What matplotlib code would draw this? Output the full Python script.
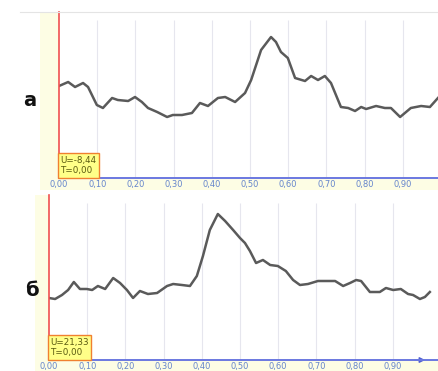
"""Two oscillogram traces (а, б) with time axis and marker readout."""
import matplotlib
matplotlib.use("Agg")
import matplotlib.pyplot as plt
from matplotlib.patches import Rectangle

W, H = 438, 371

# ---- trace а ----
t_a = [0.000, 0.024, 0.042, 0.063, 0.076, 0.099, 0.115, 0.139, 0.154, 0.181,
       0.199, 0.217, 0.233, 0.257, 0.283, 0.298, 0.322, 0.348, 0.369, 0.390,
       0.416, 0.435, 0.461, 0.487, 0.503, 0.529, 0.555, 0.568, 0.581, 0.599,
       0.618, 0.644, 0.660, 0.678, 0.696, 0.712, 0.738, 0.757, 0.775, 0.791,
       0.804, 0.830, 0.853, 0.869, 0.893, 0.921, 0.948, 0.971, 0.992]
u_a = [92, 96, 91, 95, 91, 73, 70, 80, 78, 77,
       81, 76, 70, 66, 61, 63, 63, 65, 75, 72,
       80, 81, 76, 85, 98, 128, 141, 136, 126, 120,
       100, 97, 102, 98, 102, 95, 71, 70, 67, 71,
       69, 72, 70, 70, 61, 70, 72, 71, 80]

# ---- trace б ----
t_b = [0.000, 0.016, 0.034, 0.050, 0.065, 0.081, 0.099, 0.113, 0.128, 0.147,
       0.168, 0.186, 0.204, 0.220, 0.238, 0.259, 0.283, 0.309, 0.325, 0.348,
       0.369, 0.387, 0.403, 0.421, 0.442, 0.461, 0.482, 0.500, 0.513, 0.526,
       0.542, 0.560, 0.579, 0.599, 0.620, 0.639, 0.657, 0.678, 0.704, 0.725,
       0.749, 0.770, 0.788, 0.804, 0.817, 0.840, 0.866, 0.882, 0.901, 0.921,
       0.940, 0.953, 0.971, 0.984, 0.997]
u_b = [62, 61, 65, 70, 78, 71, 71, 70, 74, 71,
       82, 77, 70, 62, 69, 66, 67, 74, 76, 75,
       74, 84, 104, 130, 146, 139, 130, 122, 117, 109,
       97, 100, 95, 94, 89, 80, 75, 76, 79, 79,
       79, 74, 77, 80, 79, 68, 68, 72, 70, 71,
       66, 65, 61, 63, 68]

ticks = [0.0, 0.1, 0.2, 0.3, 0.4, 0.5, 0.6, 0.7, 0.8, 0.9]
tick_labels = ["0,00", "0,10", "0,20", "0,30", "0,40",
               "0,50", "0,60", "0,70", "0,80", "0,90"]

panels = [
    # letter, t, u, readout, left px, top px, bottom px, strip left, letter pos, arrow
    ("а", t_a, u_a, "U=-8,44\nT=0,00", 59, 12, 178, 40, (30, 100), False),
    ("б", t_b, u_b, "U=21,33\nT=0,00", 49, 195, 360, 35, (32, 291), True),
]

fig = plt.figure(figsize=(W / 100, H / 100), dpi=100)
fig.patch.set_facecolor("white")

# thin border at the very top
fig.add_artist(plt.Line2D([20 / W, 1], [1 - 12 / H] * 2, color="#e4e4e4", lw=0.8))

for letter, t, u, readout, left, top, bottom, strip, lpos, arrow in panels:
    px_per_unit = 382.0
    x_max = (W - left) / px_per_unit
    hgt = bottom - top

    # pale yellow strip left of the start line, and band under the axis
    fig.add_artist(Rectangle((strip / W, 1 - bottom / H), (left - strip) / W, hgt / H,
                             transform=fig.transFigure, facecolor="#fdfde4",
                             edgecolor="none", zorder=0))
    fig.add_artist(Rectangle((strip / W, 1 - (bottom + 12) / H), (W - strip) / W, 12 / H,
                             transform=fig.transFigure, facecolor="#fdfde4",
                             edgecolor="none", zorder=0))

    ax = fig.add_axes([left / W, 1 - bottom / H, (W - left) / W, hgt / H])
    ax.patch.set_alpha(0)
    ax.set_xlim(0, x_max)
    ax.set_ylim(0, hgt)
    for s in ax.spines.values():
        s.set_visible(False)
    ax.set_yticks([])

    ax.vlines(ticks[1:], 0, hgt - 8, color="#e6e6ee", lw=0.8, zorder=1)
    ax.plot(t, u, color="#5a5a5a", lw=1.8, solid_joinstyle="round", zorder=3)

    ax.axvline(0, color="#f05050", lw=1.2, clip_on=False, zorder=4)
    ax.axhline(0, color="#6a78e0", lw=1.4, clip_on=False, zorder=4)
    if arrow:
        ax.annotate("", xy=((428 - left) / px_per_unit, 0), xytext=(0.95, 0),
                    arrowprops=dict(arrowstyle="-|>", color="#5060d0", lw=1.0,
                                    mutation_scale=8), annotation_clip=False)

    ax.set_xticks(ticks)
    ax.set_xticklabels(tick_labels, fontsize=6, color="#6585cc")
    ax.tick_params(axis="x", length=0, pad=1.5)

    ax.text(0.003, 3, readout, fontsize=6.3, color="#5a5a10", ha="left", va="bottom",
            linespacing=1.15, zorder=5,
            bbox=dict(boxstyle="square,pad=0.3", facecolor="#ffff88",
                      edgecolor="#f08030", lw=1.0))

    fig.text(lpos[0] / W, 1 - lpos[1] / H, letter, fontsize=14, fontweight="bold",
             ha="center", va="center", color="#111111")

fig.savefig("out.png", dpi=100)
